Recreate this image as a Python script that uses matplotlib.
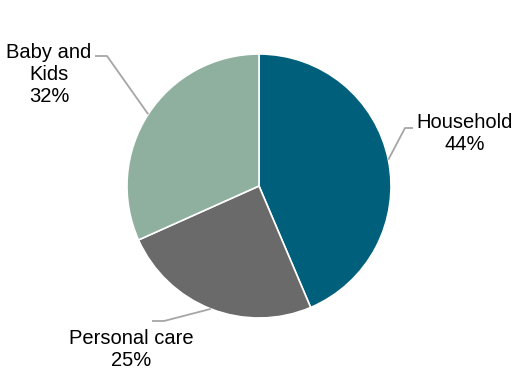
import numpy as np
import matplotlib
matplotlib.use("Agg")
import matplotlib.pyplot as plt

plt.rcParams['font.family'] = ['Liberation Sans', 'DejaVu Sans']

categories = ["Household", "Personal care", "Baby and\nKids"]
values = [43.6, 24.7, 31.7]
pct_labels = ["44%", "25%", "32%"]
colors = ["#005F7A", "#6A6A6A", "#8FAF9F"]

W, H = 513, 373
fig = plt.figure(figsize=(W / 100, H / 100), dpi=100)
ax = fig.add_axes([0, 0, 1, 1])
ax.set_xlim(0, W)
ax.set_ylim(0, H)
ax.set_aspect('equal')
ax.axis('off')

cx, cy, R = 259, H - 186, 132
wedges, _ = ax.pie(values, colors=colors, startangle=90, counterclock=False,
                   center=(cx, cy), radius=R,
                   wedgeprops=dict(edgecolor="white", linewidth=1.2))
ax.set_xlim(0, W)
ax.set_ylim(0, H)

# label layout: (elbow xy, end xy, text xy, ha)
layout = [
    ((405, H - 128), (413, H - 128), (465, H - 133), 'center'),
    ((164, H - 321), (152, H - 321), (131, H - 350), 'center'),
    ((107, H - 56), (95, H - 56), (49, H - 74), 'center'),
]
for w, cat, pct, (elb, end, txy, ha) in zip(wedges, categories, pct_labels, layout):
    ang = np.deg2rad((w.theta1 + w.theta2) / 2)
    sx, sy = cx + R * np.cos(ang), cy + R * np.sin(ang)
    ax.plot([sx, elb[0], end[0]], [sy, elb[1], end[1]], color="#A6A6A6", lw=1.3,
            solid_capstyle='butt')
    ax.text(txy[0], txy[1], f"{cat}\n{pct}", ha=ha, va='center', fontsize=14.5,
            color="#000000", linespacing=1.2)

fig.savefig("out.png", dpi=100)
